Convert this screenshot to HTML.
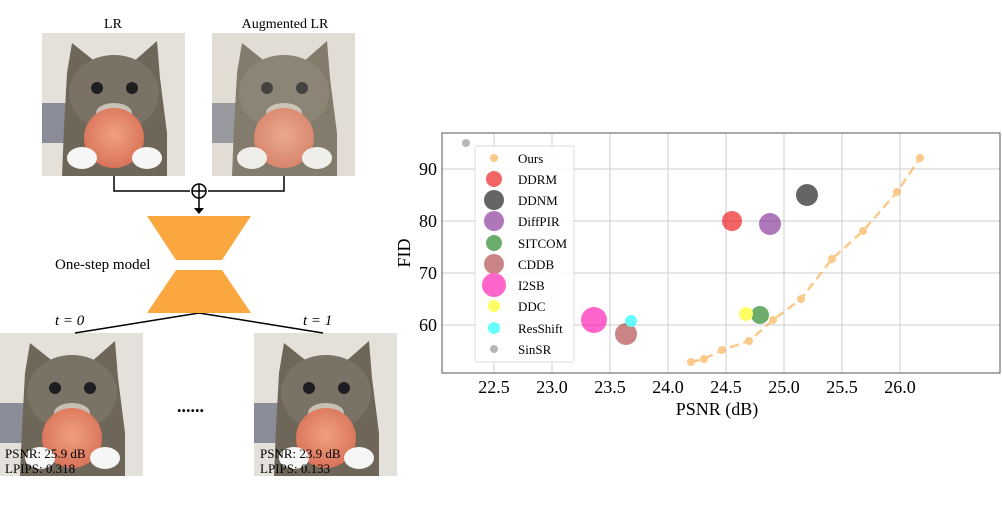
<!DOCTYPE html>
<html><head><style>
body{margin:0;background:#fff;width:1002px;height:508px;overflow:hidden;font-family:"Liberation Serif",serif;}
</style></head><body>
<svg width="1002" height="508" xmlns="http://www.w3.org/2000/svg" font-family="Liberation Serif, serif">
<defs>
<radialGradient id="apple" cx="0.5" cy="0.45" r="0.55"><stop offset="0" stop-color="#f0a080"/><stop offset="1" stop-color="#d9735a"/></radialGradient>
<g id="cat">
<rect x="0" y="0" width="143" height="143" fill="#e4e0da"/>
<rect x="0" y="70" width="30" height="40" fill="#8a8c98"/>
<path d="M25 40 L30 10 L55 30 L90 30 L115 8 L118 45 L125 100 L125 143 L20 143 L22 95 Z" fill="#6e6658"/>
<ellipse cx="72" cy="60" rx="45" ry="38" fill="#7a7264"/>
<ellipse cx="55" cy="55" rx="6" ry="6" fill="#1e1e22"/>
<ellipse cx="90" cy="55" rx="6" ry="6" fill="#1e1e22"/>
<ellipse cx="72" cy="80" rx="18" ry="10" fill="#c8c0b4"/>
<ellipse cx="72" cy="105" rx="30" ry="30" fill="url(#apple)"/>
<ellipse cx="40" cy="125" rx="15" ry="11" fill="#f6f6f6"/>
<ellipse cx="105" cy="125" rx="15" ry="11" fill="#f6f6f6"/>
</g>
</defs>
<text x="113" y="28" font-size="14" text-anchor="middle">LR</text>
<text x="285" y="28" font-size="14" text-anchor="middle">Augmented LR</text>
<use href="#cat" x="42" y="33"/>
<use href="#cat" x="212" y="33"/>
<rect x="212" y="33" width="143" height="143" fill="#d8d0c0" opacity="0.2"/>
<use href="#cat" x="0" y="333"/>
<use href="#cat" x="254" y="333"/>
<g stroke="#000" stroke-width="1.5" fill="none">
<path d="M114 176 V191 H190"/><path d="M284 176 V191 H208"/>
<circle cx="199" cy="191" r="7"/><path d="M192 191 H206 M199 184 V198"/>
<path d="M199 198 V212"/>
<path d="M199 313 L75 333"/><path d="M199 313 L323 333"/>
</g>
<path d="M194 208 L199 214 L204 208 Z" fill="#000"/>
<polygon points="147,216 251,216 222,260 176,260" fill="#f9a73e"/>
<polygon points="176,270 222,270 251,313 147,313" fill="#f9a73e"/>
<text x="55" y="269" font-size="15">One-step model</text>
<text x="55" y="325" font-size="15" font-style="italic">t = 0</text>
<text x="303" y="325" font-size="15" font-style="italic">t = 1</text>
<text x="177" y="412" font-size="18" font-weight="bold">......</text>
<g font-size="13"><text x="5" y="458">PSNR: 25.9 dB</text><text x="5" y="473">LPIPS: 0.318</text>
<text x="260" y="458">PSNR: 23.9 dB</text><text x="260" y="473">LPIPS: 0.133</text></g>

<g stroke="#ccc" stroke-width="1">
<line x1="494" y1="133" x2="494" y2="373"/><line x1="552" y1="133" x2="552" y2="373"/><line x1="610" y1="133" x2="610" y2="373"/><line x1="668" y1="133" x2="668" y2="373"/><line x1="726" y1="133" x2="726" y2="373"/><line x1="784" y1="133" x2="784" y2="373"/><line x1="842" y1="133" x2="842" y2="373"/><line x1="900" y1="133" x2="900" y2="373"/>
<line x1="442" y1="169" x2="1000" y2="169"/><line x1="442" y1="221" x2="1000" y2="221"/><line x1="442" y1="273" x2="1000" y2="273"/><line x1="442" y1="325" x2="1000" y2="325"/>
</g>
<rect x="442" y="133" width="558" height="240" fill="none" stroke="#555" stroke-width="1"/>
<g font-size="18" text-anchor="middle">
<text x="494" y="393">22.5</text><text x="552" y="393">23.0</text><text x="610" y="393">23.5</text><text x="668" y="393">24.0</text><text x="726" y="393">24.5</text><text x="784" y="393">25.0</text><text x="842" y="393">25.5</text><text x="900" y="393">26.0</text>
</g>
<g font-size="18" text-anchor="end">
<text x="437" y="175">90</text><text x="437" y="227">80</text><text x="437" y="279">70</text><text x="437" y="331">60</text>
</g>
<text x="717" y="415" font-size="18" text-anchor="middle">PSNR (dB)</text>
<text x="410" y="253" font-size="18" text-anchor="middle" transform="rotate(-90 410 253)">FID</text>
<g opacity="0.6">
<circle cx="466" cy="143" r="4" fill="#888"/>
<circle cx="732" cy="221" r="10" fill="#e00"/>
<circle cx="807" cy="195" r="11" fill="#000"/>
<circle cx="770" cy="224" r="11" fill="#7b1f8f"/>
<circle cx="760" cy="315" r="9" fill="#0a7a0a"/>
<circle cx="626" cy="334" r="11" fill="#a33"/>
<circle cx="594" cy="320" r="13" fill="#f0a"/>
<circle cx="746" cy="314" r="7" fill="#ff0"/>
<circle cx="631" cy="321" r="6" fill="#0ff"/>
<polyline points="691,362 704,359 722,350 749,341 773,320 801,299 832,259 863,231 897,192 920,158" fill="none" stroke="#f9a73e" stroke-width="2.5" stroke-dasharray="9,5"/>
<g fill="#f9a73e"><circle cx="691" cy="362" r="4"/><circle cx="704" cy="359" r="4"/><circle cx="722" cy="350" r="4"/><circle cx="749" cy="341" r="4"/><circle cx="773" cy="320" r="4"/><circle cx="801" cy="299" r="4"/><circle cx="832" cy="259" r="4"/><circle cx="863" cy="231" r="4"/><circle cx="897" cy="192" r="4"/><circle cx="920" cy="158" r="4"/></g>
</g>
<rect x="475" y="146" width="99" height="216" fill="#fff" fill-opacity="0.85" stroke="#ddd" rx="2"/>
<g opacity="0.6">
<circle cx="494" cy="158" r="4" fill="#f9a73e"/><circle cx="494" cy="179" r="8" fill="#e00"/><circle cx="494" cy="200" r="10" fill="#000"/><circle cx="494" cy="221" r="10" fill="#7b1f8f"/><circle cx="494" cy="243" r="8" fill="#0a7a0a"/><circle cx="494" cy="264" r="10" fill="#a33"/><circle cx="494" cy="285" r="12" fill="#f0a"/><circle cx="494" cy="306" r="6" fill="#ff0"/><circle cx="494" cy="328" r="6" fill="#0ff"/><circle cx="494" cy="349" r="4" fill="#888"/>
</g>
<g font-size="13">
<text x="518" y="163">Ours</text><text x="518" y="184">DDRM</text><text x="518" y="205">DDNM</text><text x="518" y="226">DiffPIR</text><text x="518" y="248">SITCOM</text><text x="518" y="269">CDDB</text><text x="518" y="290">I2SB</text><text x="518" y="311">DDC</text><text x="518" y="333">ResShift</text><text x="518" y="354">SinSR</text>
</g>
</svg>
</body></html>
